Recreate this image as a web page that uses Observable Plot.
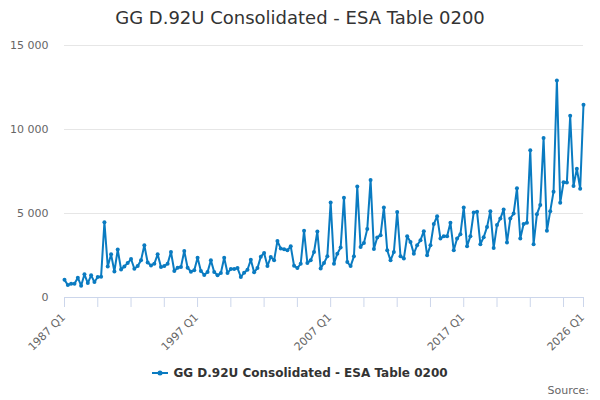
<!DOCTYPE html>
<html>
<head>
<meta charset="utf-8">
<script src="https://cdn.jsdelivr.net/npm/d3@7"></script>
<script src="https://cdn.jsdelivr.net/npm/@observablehq/plot@0.6"></script>
<style>
  html, body { margin: 0; padding: 0; background: #fff; }
  #wrap { position: relative; width: 600px; height: 400px; font-family: "DejaVu Sans", Verdana, sans-serif; overflow: hidden; }
  #title { position: absolute; top: 8px; left: 0; width: 600px; text-align: center; font-size: 18px; line-height: 20px; color: #333; }
  #chart { position: absolute; top: 0; left: 0; }
  #legend { position: absolute; top: 364px; left: 0; width: 600px; text-align: center; line-height: 18px; font-size: 12px; font-weight: bold; color: #333; }
  #legend svg { vertical-align: middle; margin-right: 5px; position: relative; top: -1px; }
  #source { position: absolute; top: 383px; right: 11px; font-size: 11px; line-height: 16px; color: #666; }
</style>
</head>
<body>
<div id="wrap">
  <div id="title"></div>
  <div id="chart"></div>
  <div id="legend"></div>
  <div id="source">Source:</div>
</div>
<script>
// ---- data ----
const seriesName = "GG D.92U Consolidated - ESA Table 0200";
const startYear = 1987;
const values = [
  1050, 740, 820, 820, 1180, 700, 1380, 860, 1320, 920, 1220, 1240,
  4480, 1850, 2570, 1550, 2850, 1670, 1850, 2050, 2290, 1710, 1870, 2210,
  3110, 2080, 1910, 2010, 2570, 1810, 1870, 2010, 2710, 1580, 1770, 1810,
  2770, 1770, 1540, 1620, 2370, 1580, 1340, 1520, 2210, 1520, 1320, 1460,
  2370, 1460, 1690, 1700, 1750, 1220, 1480, 1650, 2250, 1500, 1750, 2430,
  2650, 1870, 2410, 2210, 3370, 2910, 2870, 2810, 3050, 1890, 1750, 2010,
  3970, 2050, 2210, 2710, 3930, 1730, 2050, 2450, 5660, 2010, 2610, 2970,
  5940, 2110, 1870, 2450, 6600, 3010, 3250, 4070, 7000, 2890, 3570, 3710,
  5360, 2810, 2210, 2710, 5090, 2450, 2320, 3650, 3310, 2610, 3110, 3410,
  3950, 2510, 3110, 4370, 4840, 3510, 3650, 3650, 4450, 2810, 3510, 3770,
  5360, 3050, 3650, 5060, 5100, 3170, 3590, 4190, 5140, 2950, 4310, 4700,
  5240, 3270, 4700, 5000, 6500, 3510, 4370, 4450, 8770, 3170, 4960, 5500,
  9490, 3970, 5140, 6300, 12920, 5640, 6860, 6840, 10820, 6640, 7670, 6480,
  11480
];
const quarters = values.map((_, i) => `${startYear + Math.floor(i / 4)} Q${(i % 4) + 1}`);
const xTickLabels = ["1987 Q1", "1997 Q1", "2007 Q1", "2017 Q1", "2026 Q1"];
const yTicks = [0, 5000, 10000, 15000];
const lineColor = "#0a7bc1";

// ---- build ----
const data = quarters.map((q, i) => ({q, v: values[i]}));
const xTickMarks = quarters.filter((q, i) => i % 10 === 0).concat([quarters[quarters.length - 1]]);
const fmt = d => d3.format(",")(d).replace(/,/g, " ");

document.getElementById("title").textContent = seriesName;

const chart = Plot.plot({
  width: 600,
  height: 400,
  marginTop: 45,
  marginBottom: 103,
  marginLeft: 64,
  marginRight: 17,
  style: {fontFamily: "'DejaVu Sans', Verdana, sans-serif", fontSize: "11px", color: "#666", background: "transparent", overflow: "visible"},
  x: {type: "point", domain: quarters, padding: 0},
  y: {domain: [0, 15000]},
  marks: [
    Plot.gridY(yTicks, {stroke: "#e6e6e6", strokeOpacity: 1}),
    Plot.axisY(yTicks, {tickSize: 0, tickPadding: 16, tickFormat: fmt, label: null, fill: "#666"}),
    Plot.ruleY([0], {stroke: "#ccd6eb"}),
    Plot.axisX(xTickMarks, {tickSize: 10, stroke: "#ccd6eb", strokeOpacity: 1, tickFormat: () => "", label: null}),
    Plot.axisX(xTickLabels, {tickSize: 0, tickRotate: -45, tickPadding: 18, dx: -1, label: null, fill: "#666"}),
    Plot.line(data, {x: "q", y: "v", stroke: lineColor, strokeWidth: 2}),
    Plot.dot(data, {x: "q", y: "v", r: 2, fill: lineColor, stroke: "none"})
  ]
});
document.getElementById("chart").appendChild(chart);

// legend
const legend = document.getElementById("legend");
legend.innerHTML = `<svg width="16" height="10"><line x1="0" x2="16" y1="5" y2="5" stroke="${lineColor}" stroke-width="2"></line><circle cx="8" cy="5" r="2.5" fill="${lineColor}"></circle></svg><span></span>`;
legend.querySelector("span").textContent = seriesName;
</script>
</body>
</html>
